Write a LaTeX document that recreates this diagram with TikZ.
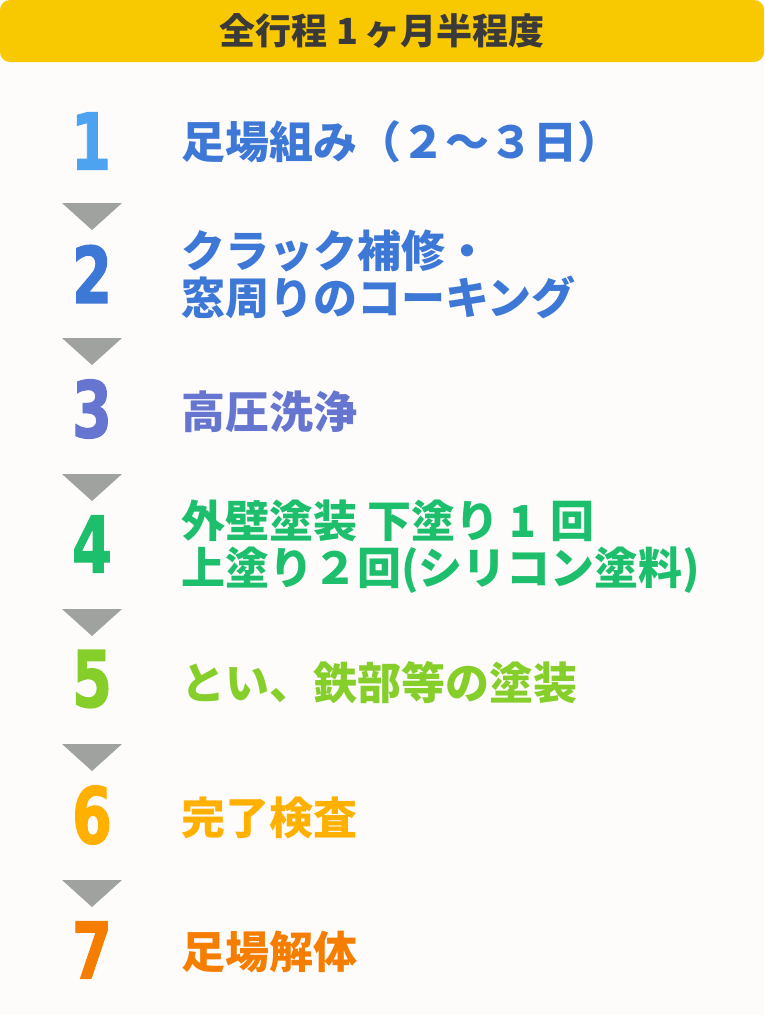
\documentclass[tikz,border=0pt]{standalone}
\usepackage{fontspec}
\newfontfamily\jp{Noto Sans CJK JP}
\newfontfamily\numf{DejaVu Sans}[BoldFeatures={FakeBold=1.6}]
\definecolor{bgc}{HTML}{FDFCFB}
\definecolor{hdr}{HTML}{F8C800}
\definecolor{hdrtxt}{HTML}{3A3A3A}
\definecolor{arrowc}{HTML}{A0A2A0}
\definecolor{numA}{HTML}{4DA3F0}
\definecolor{blueA}{HTML}{3E78D6}
\definecolor{purpA}{HTML}{6676D0}
\definecolor{greenA}{HTML}{1DBF6D}
\definecolor{limeA}{HTML}{86CE2A}
\definecolor{yellA}{HTML}{FFB000}
\definecolor{orngA}{HTML}{F57D00}
\tikzset{
  numstyle/.style={inner sep=0pt, font=\numf\bfseries\fontsize{78}{78}\selectfont},
  stepstyle/.style={inner sep=0pt, anchor=west, align=left, font=\jp\bfseries\fontsize{44}{47}\selectfont},
  downtri/.style={fill=arrowc}
}
\newcommand{\dg}[1]{\scalebox{0.74}[1]{#1}}
\begin{document}
\begin{tikzpicture}[x=1pt,y=-1pt]
\fill[bgc] (0,0) rectangle (764,1015);
\useasboundingbox (0,0) rectangle (764,1015);
\fill[hdr, rounded corners=10pt] (0,0) rectangle (764,62);
\node[inner sep=0pt, font=\jp\bfseries\fontsize{36}{36}\selectfont, text=hdrtxt] (title) at (382,31) {全行程 1\,ヶ月半程度};
% numbers
\node[numstyle, text=numA]   (n1) at (91,141) {\dg{1}};
\node[numstyle, text=blueA]  (n2) at (92,274) {\dg{2}};
\node[numstyle, text=purpA]  (n3) at (92,409) {\dg{3}};
\node[numstyle, text=greenA] (n4) at (92,544) {\dg{4}};
\node[numstyle, text=limeA]  (n5) at (92,679) {\dg{5}};
\node[numstyle, text=yellA]  (n6) at (92,815) {\dg{6}};
\node[numstyle, text=orngA]  (n7) at (92,950) {\dg{7}};
% step texts
\node[stepstyle, text=blueA]  (s1) at (181,142) {足場組み（２～３日）};
\node[stepstyle, text=blueA]  (s2) at (181,274) {クラック補修・\\窓周りのコーキング};
\node[stepstyle, text=purpA]  (s3) at (181,412) {高圧洗浄};
\node[stepstyle, text=greenA] (s4) at (181,547) {外壁塗装 下塗り 1\hspace{14pt}回\\上塗り２回(シリコン塗料)};
\node[stepstyle, text=limeA]  (s5) at (181,683) {とい、鉄部等の塗装};
\node[stepstyle, text=yellA]  (s6) at (181,818) {完了検査};
\node[stepstyle, text=orngA]  (s7) at (181,952) {足場解体};
% arrows
\foreach \t in {203,338,474,609,744,880}{
  \fill[downtri] (62,\t) -- (122,\t) -- (92,\t+27) -- cycle;
}
\end{tikzpicture}
\end{document}
